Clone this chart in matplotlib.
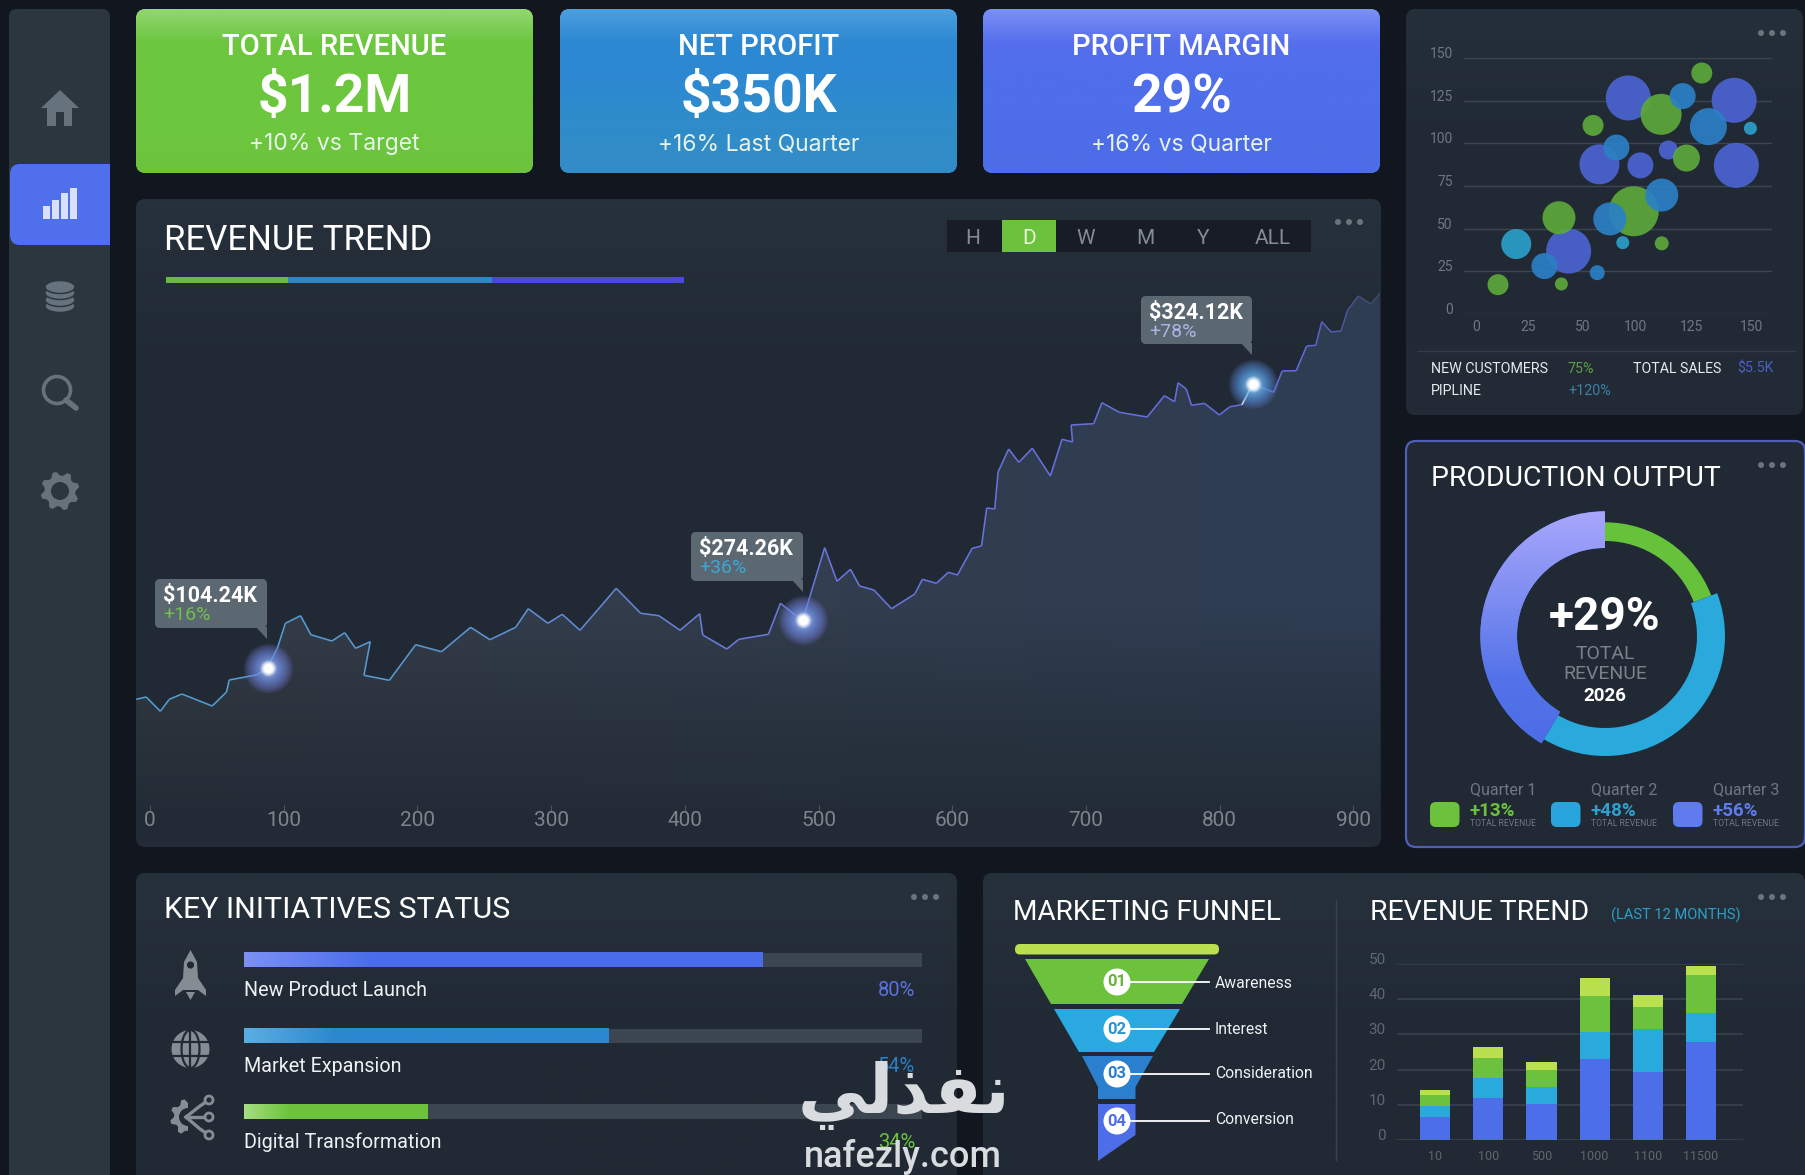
import numpy as np
import matplotlib
matplotlib.use("Agg")
import matplotlib.pyplot as plt
from matplotlib.patches import FancyBboxPatch, Polygon, Circle, Ellipse, Rectangle
from matplotlib.collections import LineCollection
from matplotlib.colors import LinearSegmentedColormap, to_rgb

plt.rcParams["font.family"] = ["Roboto", "DejaVu Sans"]

W, H = 1806, 1175

# ---- data ----
kpi_titles = ["TOTAL REVENUE", "NET PROFIT", "PROFIT MARGIN"]
kpi_values = ["$1.2M", "$350K", "29%"]
kpi_notes = ["+10% vs Target", "+16% Last Quarter", "+16% vs Quarter"]

trend_x = [-10.3, -2.9, 7.7, 14.4, 23.8, 46.5, 57.2, 59.2, 80.2, 87.9, 95.2, 101.2, 112.6, 120.3, 136,
           145.6, 153.7, 164.7, 160, 179, 198.7, 218, 239.8, 254.2, 273.5, 282.9, 297.6, 308.3, 321.6,
           348.7, 367, 380.7, 396.4, 411.1, 413.4, 431.4, 440.5, 462.5, 471.5, 482.6, 488.2, 504.6,
           513.8, 523.9, 530.7, 541.4, 554.6, 572, 577.7, 588.1, 597.1, 603.9, 614.9, 621.9, 625.8,
           631.8, 634.3, 642.2, 649.8, 659.9, 673.4, 682.1, 690, 688.9, 705.8, 712, 724.9, 745.8,
           758.7, 766.3, 768.9, 775, 779, 788.6, 799.8, 807.7, 816.7, 824.9, 840.4, 846.8, 857.3,
           865.1, 871.9, 876.4, 883.4, 890.8, 895.8, 903.7, 913, 919.8]
trend_y = [147.7, 150, 135.7, 147.7, 153, 141, 155, 167, 172.3, 179.3, 198.7, 223.7, 231.3, 212.3, 206,
           214.3, 198.7, 205.3, 171.7, 166.7, 202.3, 195.3, 219.7, 207.3, 219.7, 238.3, 223.7, 232.7, 216.7,
           258.7, 233.7, 231.3, 216.7, 233.3, 212, 198, 207.7, 212.7, 243.7, 232, 227, 299.3,
           265.7, 277.7, 261, 257, 238.3, 253, 267.7, 263.7, 274.7, 272, 298.7, 301, 339,
           338, 375, 398, 384.7, 398.7, 371, 407.7, 405, 422, 423.3, 444.3, 434.7, 430,
           451.3, 445.3, 464.3, 458, 441.7, 443.7, 432, 440.3, 442.3, 463, 454.7, 476, 476.3,
           501, 501.7, 525.3, 515, 516, 537, 551, 543, 553.7]
trend_ticks = [0, 100, 200, 300, 400, 500, 600, 700, 800, 900]
peak_x = [87.9, 488.2, 824.9]
peak_y = [179.3, 227, 463]
peak_labels = ["$104.24K", "$274.26K", "$324.12K"]
peak_deltas = ["+16%", "+36%", "+78%"]
ranges = ["H", "D", "W", "M", "Y", "ALL"]

bub_indigo_x = [69.2, 117.3, 56.1, 74.7, 87.4, 118.3, 42.1]
bub_indigo_y = [126.6, 125.2, 87.7, 87.1, 96.1, 87.1, 36.9]
bub_indigo_d = [45, 45, 40, 26, 19, 45, 45]
bub_green_x = [102.6, 84.1, 53.2, 95.6, 71.7, 37.7, 84.4, 10, 38.8]
bub_green_y = [141.2, 117, 110.5, 91.4, 60.2, 56.4, 41.4, 17.2, 17.6]
bub_green_d = [21, 41, 21, 27, 50, 33, 14, 21, 13]
bub_blue_x = [93.9, 105.6, 63.8, 84.4, 60.8, 31.1, 55.1]
bub_blue_y = [127.7, 109.8, 97.5, 69.7, 55.7, 28.1, 24.2]
bub_blue_d = [26, 37, 26, 33, 33, 26, 15]
bub_cyan_x = [124.7, 18.3, 66.7]
bub_cyan_y = [108.8, 41, 41.8]
bub_cyan_d = [13, 30, 13]
bub_xticks = [0, 23.6, 48.6, 72.3, 97.7, 125]
bub_xlabels = ["0", "25", "50", "100", "125", "150"]
bub_yticks = [0, 25, 50, 75, 100, 125, 150]

donut_shares = [19.2, 39.3, 41.5]
quarters = ["Quarter 1", "Quarter 2", "Quarter 3"]
quarter_vals = ["+13%", "+48%", "+56%"]

init_names = ["New Product Launch", "Market Expansion", "Digital Transformation"]
init_fill = [76.5, 53.8, 27]
init_labels = ["80%", "54%", "34%"]

funnel_names = ["Awareness", "Interest", "Consideration", "Conversion"]
funnel_nums = ["01", "02", "03", "04"]

stack_labels = ["10", "100", "500", "1000", "1100", "11500"]
stack_indigo = [6.5, 11.9, 10.1, 22.9, 19.3, 27.8]
stack_cyan = [3.1, 5.7, 4.9, 7.8, 12.2, 8.3]
stack_green = [3.1, 5.8, 4.9, 10.1, 6.4, 10.7]
stack_lime = [1.6, 2.9, 2.4, 5.1, 3.2, 2.7]
stack_ticks = [0, 10, 20, 30, 40, 50]

# ---- colours ----
BG = "#12161f"
PANEL_TOP = "#27313b"
PANEL = "#212a34"
GREEN = "#6cc23c"
BLUE = "#2b86cf"
CYAN = "#29a9dc"
INDIGO = "#4c6ee8"
LIME = "#b9e04f"
TICK = "#7c858d"
ICON = "#66737d"

fig = plt.figure(figsize=(W / 100, H / 100), dpi=100, facecolor=BG)


def px_axes(x0, y0, x1, y1, z):
    ax = fig.add_axes([x0 / W, 1 - y1 / H, (x1 - x0) / W, (y1 - y0) / H], zorder=z)
    ax.patch.set_alpha(0)
    return ax


back = px_axes(0, 0, W, H, 0)
back.set_xlim(0, W)
back.set_ylim(H, 0)
back.axis("off")
top = px_axes(0, 0, W, H, 5)
top.set_xlim(0, W)
top.set_ylim(H, 0)
top.axis("off")


def box(x0, y0, x1, y1, r, c_top, edge="none", lw=0, stops=None):
    p = FancyBboxPatch((x0 + r, y0 + r), x1 - x0 - 2 * r, y1 - y0 - 2 * r,
                       boxstyle="round,pad=%g,rounding_size=%g" % (r, r),
                       fc=c_top, ec=edge, lw=lw, zorder=1)
    back.add_patch(p)
    if stops is not None:
        cm = LinearSegmentedColormap.from_list("g", stops)
        arr = cm(np.linspace(0, 1, 128))[:, :3]
        im = back.imshow(arr[:, None, :], extent=(x0, x1, y1, y0), aspect="auto", zorder=1.5)
        im.set_clip_path(p)
        back.set_xlim(0, W)
        back.set_ylim(H, 0)
    return p


def label(x, y, s, size, color="white", weight="normal", ha="left", va="center", ax=None, **kw):
    return (ax or top).text(x, y, s, fontsize=size, color=color, fontweight=weight, ha=ha, va=va, **kw)


def dots(cx, cy, ax=back):
    for dx in (-11, 0, 11):
        ax.add_patch(Circle((cx + dx, cy), 3, fc="#6b747d", ec="none", zorder=3))


def gear(cx, cy, ro, ri, n=8):
    ang = np.linspace(0, 2 * np.pi, n * 4, endpoint=False) + np.pi / n / 2
    rad = np.tile([ri, ro, ro, ri], n)
    return np.column_stack([cx + rad * np.cos(ang), cy + rad * np.sin(ang)])


# ---- sidebar ----
box(9, 9, 110, 1190, 8, "#2c363f")
box(10, 164, 110, 245, 10, "#4f6fec")
back.add_patch(Rectangle((90, 164), 20, 81, fc="#4f6fec", ec="none", zorder=2))

back.add_patch(Polygon([(60, 90), (79, 108), (72, 108), (72, 126), (64, 126), (64, 112), (56, 112),
                        (56, 126), (47, 126), (47, 108), (41, 108)], fc=ICON, ec="none", zorder=3))
for bx, bh in zip((43, 52, 61, 70), (13, 19, 26, 31)):
    back.add_patch(Rectangle((bx, 219 - bh), 7, bh, fc="#d8e0fa", ec="none", zorder=3))
for cy in (306, 300, 293, 287):
    back.add_patch(Ellipse((60, cy), 30, 13, fc=ICON, ec="#2c363f", lw=1.1, zorder=3))
back.add_patch(Circle((57, 390), 13.5, fc="none", ec=ICON, lw=2.6, zorder=3))
back.plot([66, 76], [400, 408], color=ICON, lw=4, solid_capstyle="round", zorder=3)
back.add_patch(Polygon(gear(60, 491, 19.5, 15.5), fc=ICON, ec="none", zorder=3))
back.add_patch(Circle((60, 491), 9, fc="#2c363f", ec="none", zorder=3))

# ---- kpi cards ----
kpi_boxes = [(136, 533), (560, 957), (983, 1380)]
kpi_stops = [["#93d771", "#6cc63e", "#6cc63e", "#6cc63e", "#6cc63e", "#6cc43c"],
             ["#4b9fe0", "#2d88d2", "#2d88d2", "#2f8ccd", "#318cc8", "#318cc8"],
             ["#7a90f6", "#566fec", "#4f6eea", "#4f6eea", "#4d6de8", "#4d6de8"]]
for (x0, x1), title, val, note, st in zip(kpi_boxes, kpi_titles, kpi_values, kpi_notes, kpi_stops):
    box(x0, 9, x1, 173, 10, st[0], stops=st)
    cx = (x0 + x1) / 2
    label(cx, 47, title, 21, weight="medium", ha="center")
    label(cx, 98, val, 38.5, weight="bold", ha="center")
    label(cx, 144, note, 16.5, color="#e6f2ea", ha="center", family="Inter")

# ---- main panel ----
box(136, 199, 1381, 847, 10, PANEL_TOP, stops=[PANEL_TOP, PANEL, PANEL, PANEL, "#232c36"])
box(1406, 9, 1803, 415, 10, PANEL_TOP, stops=["#252f39", PANEL, PANEL, "#232c36"])
box(1406, 441, 1805, 847, 10, PANEL, edge="#4f5fb8", lw=1.6)
box(136, 873, 957, 1190, 10, PANEL_TOP, stops=["#27313b", PANEL, PANEL])
box(983, 873, 1805, 1190, 10, PANEL_TOP, stops=["#27313b", PANEL, PANEL])

label(164, 241, "REVENUE TREND", 25)
for x0, x1, c in [(166, 288, "#6cb948"), (288, 492, "#2f84c4"), (492, 684, "#4b48dc")]:
    back.add_patch(Rectangle((x0, 277), x1 - x0, 5.5, fc=c, ec="none", zorder=3))

back.add_patch(Rectangle((947, 220), 364, 32, fc="#171c26", ec="none", zorder=3))
back.add_patch(Rectangle((1002, 220), 54, 32, fc=GREEN, ec="none", zorder=3.1))
for name, cx in zip(ranges, (973, 1029, 1086, 1145, 1203, 1273)):
    label(cx, 238, name, 15, color="#e8f4df" if name == "D" else "#838c94", ha="center")
dots(1349, 222)

# revenue line
ax = px_axes(136, 199, 1381, 847, 2)
ax.set_xlim(-10.5, 920.7)
ax.set_ylim(0, 648)
tx, ty = np.array(trend_x), np.array(trend_y)

poly = Polygon(np.column_stack([np.r_[tx, tx[-1], tx[0]], np.r_[ty, 0, 0]]), fc="none", ec="none")
ax.add_patch(poly)
gh, gw = 400, 400
rgba = np.zeros((gh, gw, 4))
left, right = np.array(to_rgb("#363c46")), np.array(to_rgb("#2f3e54"))
mix = np.linspace(0, 1, gw)[:, None]
rgba[:, :, :3] = left * (1 - mix) + right * mix
yy = np.linspace(648, 0, gh)
rgba[:, :, 3] = np.clip((yy - 25) / 210, 0, 1)[:, None]
im = ax.imshow(rgba, extent=(-10.5, 920.7, 0, 648), aspect="auto", zorder=1)
im.set_clip_path(poly)

line_cm = LinearSegmentedColormap.from_list("ln", [(0, "#4f9fcf"), (0.25, "#5a97d0"), (0.5, "#6a78dc"),
                                                   (0.94, "#6468dc"), (1, "#39465e")])
mids = (tx[:-1] + tx[1:]) / 2
seg_cols = line_cm(np.clip((mids + 10.5) / 931, 0, 1))
seg_cols[(mids > 816) & (mids < 826)] = to_rgb("#ffffff") + (1,)
ax.add_collection(LineCollection(np.stack([np.column_stack([tx[:-1], ty[:-1]]),
                                           np.column_stack([tx[1:], ty[1:]])], axis=1),
                                 colors=seg_cols, linewidths=1.15, zorder=2))

# soft glow: many faint discs stacked, so the edge fades out
glow_cm = [LinearSegmentedColormap.from_list("a", ["#7a7ce0", "#6f9cf0", "#dbe6ff"]),
           LinearSegmentedColormap.from_list("b", ["#7a7ce0", "#6f9cf0", "#dbe6ff"]),
           LinearSegmentedColormap.from_list("c", ["#5f80d8", "#58b4f0", "#dff2ff"])]
for gx, gy, cm in zip(peak_x, peak_y, glow_cm):
    radii = np.linspace(25, 5, 26)
    for i, r in enumerate(radii):
        ax.scatter([gx], [gy], s=(2 * r * 0.72) ** 2, color=cm(i / 25), alpha=0.075,
                   linewidths=0, zorder=3)
    for r, a in [(8, 0.3), (6.5, 0.5), (5, 0.8), (4, 1)]:
        ax.scatter([gx], [gy], s=(2 * r * 0.72) ** 2, color="white", alpha=a, linewidths=0, zorder=4)

for side in ax.spines.values():
    side.set_visible(False)
ax.spines["bottom"].set_position(("data", 42))
ax.set_yticks([])
ax.set_xticks(trend_ticks)
ax.tick_params(axis="x", direction="out", length=4.5, width=0.8, color="#4a545e",
               labelcolor=TICK, labelsize=15, pad=-0.5)
ax.set_xlim(-10.5, 920.7)
ax.set_ylim(0, 648)

# tooltips
tips = [(155, 579, 267, 628, 256), (691, 532, 803, 581, 792), (1141, 296, 1252, 344, 1241)]
delta_cols = ["#72bf4c", "#3ea6d4", "#aeb4e6"]
for (x0, y0, x1, y1, tail), txt, d, dc in zip(tips, peak_labels, peak_deltas, delta_cols):
    top.add_patch(FancyBboxPatch((x0 + 5, y0 + 5), x1 - x0 - 10, y1 - y0 - 10,
                                 boxstyle="round,pad=5,rounding_size=5", fc="#5b6871", ec="none", zorder=2))
    top.add_patch(Polygon([(tail, y1 - 1), (x1, y1 - 1), (x1, y1 + 11)], fc="#5b6871", ec="none", zorder=2))
    label(x0 + 8, y0 + 17, txt, 15.5, weight="bold", zorder=3)
    label(x0 + 8, y0 + 36, d, 14, color=dc, zorder=3)

# ---- bubble chart ----
ax = px_axes(1464, 58, 1772, 314, 2)
ax.set_xlim(-5.45, 134.5)
ax.set_ylim(0, 150)
for bx, by, bd, c in [(bub_indigo_x, bub_indigo_y, bub_indigo_d, "#4b64d2"),
                      (bub_green_x, bub_green_y, bub_green_d, "#5ca83a"),
                      (bub_blue_x, bub_blue_y, bub_blue_d, "#2b80c6"),
                      (bub_cyan_x, bub_cyan_y, bub_cyan_d, "#2b9fc9")]:
    ax.scatter(bx, by, s=(np.array(bd) * 0.72) ** 2, color=c, alpha=0.92, linewidths=0, zorder=3, clip_on=False)
ax.set_xticks(bub_xticks)
ax.set_xticklabels(bub_xlabels)
ax.set_yticks(bub_yticks)
ax.grid(axis="y", color="#3b4651", lw=1)
ax.grid(axis="x", visible=False)
ax.set_axisbelow(True)
for side in ax.spines.values():
    side.set_visible(False)
ax.tick_params(length=0, labelcolor="#6f7882", labelsize=10)
ax.tick_params(axis="x", pad=4.5)
ax.tick_params(axis="y", pad=8)
for t in ax.get_yticklabels():
    t.set_verticalalignment("baseline")
dots(1772, 33)
back.plot([1418, 1795], [351, 351], color="#323c47", lw=1, zorder=3)
label(1431, 369, "NEW CUSTOMERS", 10.3, color="#e6eaee")
label(1568, 369, "75%", 10.3, color="#5f9c46")
label(1633, 369, "TOTAL SALES", 10.2, color="#e6eaee")
label(1737, 369, "$5.5K", 10.2, color="#4b5fc4")
label(1431, 391, "PIPLINE", 10.3, color="#e6eaee")
label(1568, 391, "+120%", 10.3, color="#3f7fa8")

# ---- donut ----
label(1431, 478, "PRODUCTION OUTPUT", 20.4)
dots(1772, 465)
ax = px_axes(1475, 506, 1735, 766, 2)
ring_colors = ["#66c23a", "#4c6de8", CYAN]
ring_slots = [0, 2, 1]
ring_outer = [113.7, 124.7, 120]
ring_inner = [95, 88, 92]
for k, ro, ri, c in zip(ring_slots, ring_outer, ring_inner, ring_colors):
    cols = [(0, 0, 0, 0)] * 3
    cols[k] = c
    wedges, _ = ax.pie(donut_shares, radius=ro, startangle=90, counterclock=False, colors=cols,
                       wedgeprops={"width": ro - ri, "linewidth": 0})
    if k == 2:
        cm = LinearSegmentedColormap.from_list("d", ["#a8a6fb", "#7f8ef2", "#5473e9", "#4b6be6"])
        g = cm(np.linspace(0, 1, 128))[:, :3]
        im = ax.imshow(g[:, None, :], extent=(-125, 125, -125, 125), aspect="auto", zorder=2)
        im.set_clip_path(wedges[2])
ax.set_xlim(-130, 130)
ax.set_ylim(-130, 130)
ax.set_aspect("equal")
ax.axis("off")

label(1605, 617, "+29%", 33, weight="bold", ha="center")
label(1605, 654, "TOTAL", 14, color="#79828b", ha="center")
label(1605, 674, "REVENUE", 14, color="#79828b", ha="center")
label(1605, 696, "2026", 13.5, weight="bold", ha="center")

swatch_x = [1430, 1551, 1673]
text_x = [1470, 1591, 1713]
sw_cols = ["#6cc23c", "#29a5de", "#5f7bee"]
val_cols = ["#6cc23c", "#2f9fd0", "#5f7bee"]
for sx, tx0, q, v, sc, vc in zip(swatch_x, text_x, quarters, quarter_vals, sw_cols, val_cols):
    top.add_patch(FancyBboxPatch((sx + 6, 808), 17.5, 13, boxstyle="round,pad=6,rounding_size=6", fc=sc, ec="none"))
    label(tx0, 790, q, 11.5, color="#6f7882")
    label(tx0, 811, v, 13.5, color=vc, weight="bold")
    label(tx0, 824, "TOTAL REVENUE", 6.2, color="#6f7882")

# ---- key initiatives ----
label(164, 910, "KEY INITIATIVES STATUS", 21.8)
dots(925, 897)
ax = px_axes(244, 940, 922, 1130, 2)
ypos = [0, 1, 2]
ax.barh(ypos, [100] * 3, height=0.19, color="#3c4650", zorder=1)
fill_cols = [("#7c90f4", "#4a6cea"), ("#5aaee2", "#2b88d0"), ("#a6de80", "#6cc23c")]
bars = ax.barh(ypos, init_fill, height=0.19, color=[c[1] for c in fill_cols], zorder=2)
for rect, (c0, c1) in zip(bars, fill_cols):
    stop = np.clip(np.linspace(0, 1, 128) * 4, 0, 1)
    arr = np.array(to_rgb(c0)) * (1 - stop[:, None]) + np.array(to_rgb(c1)) * stop[:, None]
    x0, w = rect.get_x(), rect.get_width()
    y0, h = rect.get_y(), rect.get_height()
    ax.imshow(arr[None, :, :], extent=(x0, x0 + w, y0 + h, y0), aspect="auto", zorder=3)
ax.set_xlim(0, 100)
ax.set_ylim(2.244, -0.264)
ax.axis("off")

name_y = [990, 1066, 1142]
pct_cols = ["#5b70e0", "#2b7fc4", "#6cc23c"]
for ny, n, p, c in zip(name_y, init_names, init_labels, pct_cols):
    label(244, ny, n, 14.2, color="#eef1f4")
    label(915, ny, p, 14.5, color=c, ha="right")

IC2 = "#858c93"
back.add_patch(Polygon([(190.5, 950), (197, 962), (198, 978), (206, 990), (206, 996), (198, 990),
                        (183, 990), (175, 996), (175, 990), (183, 978), (184, 962)], fc=IC2, ec="none", zorder=3))
back.add_patch(Circle((190.5, 965), 3.6, fc=PANEL, ec="none", zorder=4))
back.add_patch(Polygon([(186, 992), (195, 992), (190.5, 1000)], fc=IC2, ec="none", zorder=3))
back.add_patch(Circle((190.5, 1049), 19, fc=IC2, ec="none", zorder=3))
for gy in (1042, 1056):
    back.plot([171, 210], [gy, gy], color=PANEL, lw=1.6, zorder=4)
back.add_patch(Ellipse((190.5, 1049), 18, 38, fc="none", ec=PANEL, lw=1.6, zorder=4))
back.plot([190.5, 190.5], [1030, 1068], color=PANEL, lw=1.6, zorder=4)
back.add_patch(Polygon(gear(188, 1117, 18, 14), fc=IC2, ec="none", zorder=3))
back.add_patch(Circle((188, 1117), 9, fc=PANEL, ec="none", zorder=3))
back.add_patch(Rectangle((188, 1098), 25, 38, fc=PANEL, ec="none", zorder=3.1))
for (ex, ey), mid in zip([(209, 1100), (209, 1117), (209, 1135)], [(200, 1106), (200, 1117), (200, 1129)]):
    back.plot([186, mid[0], ex], [1117, mid[1], ey], color=IC2, lw=2.4, zorder=3.2)
    back.add_patch(Circle((ex, ey), 4, fc=PANEL, ec=IC2, lw=2, zorder=3.3))

# ---- marketing funnel ----
label(1013, 912, "MARKETING FUNNEL", 20.2)
back.add_patch(FancyBboxPatch((1020, 949), 194, 0.5, boxstyle="round,pad=5,rounding_size=5",
                              fc=LIME, ec="none", zorder=3))
funnel_polys = [[(1025, 959), (1209, 959), (1182, 1004), (1051, 1004)],
                [(1054, 1009), (1180, 1009), (1154, 1052), (1079, 1052)],
                [(1082, 1056), (1153, 1056), (1135.5, 1087), (1135.5, 1099), (1098, 1099), (1098, 1087)],
                [(1098, 1104), (1135.5, 1104), (1135.5, 1135), (1098, 1161)]]
funnel_cols = ["#6cc23c", "#2aa8e0", "#2b7fcf", "#4d6ee8"]
funnel_num_cols = ["#6cb040", "#2a94d0", "#2b7fcf", "#4d6ee8"]
circle_y = [982, 1029, 1074, 1121]
text_y = [983, 1029, 1074, 1120]
for pts, c, nc, cy, ly, num, name in zip(funnel_polys, funnel_cols, funnel_num_cols, circle_y, text_y,
                                         funnel_nums, funnel_names):
    back.add_patch(Polygon(pts, fc=c, ec="none", zorder=3))
    back.plot([1131, 1209], [cy, cy], color="white", lw=1.3, zorder=3.5)
    back.add_patch(Ellipse((1117, cy), 27, 27, fc="white", ec="none", zorder=4))
    label(1117, cy, num, 12, color=nc, weight="bold", ha="center", zorder=5)
    label(1215, ly, name, 11.3, color="#eef1f4")

back.plot([1336, 1336], [900, 1160], color="#39434e", lw=1, zorder=3)

# ---- stacked bars ----
label(1370, 912, "REVENUE TREND", 20.4)
label(1611, 915, "(LAST 12 MONTHS)", 10.5, color="#2f9dc7")
dots(1772, 897)
ax = px_axes(1397, 964, 1743, 1140, 2)
pos = np.arange(len(stack_labels))
base = np.zeros(len(pos))
for vals, c in [(stack_indigo, INDIGO), (stack_cyan, CYAN), (stack_green, GREEN), (stack_lime, LIME)]:
    ax.bar(pos, vals, width=0.566, bottom=base, color=c, zorder=3)
    base += np.array(vals)
ax.set_xlim(-0.717, 5.79)
ax.set_ylim(0, 50)
ax.set_xticks(pos)
ax.set_xticklabels(stack_labels)
ax.set_yticks(stack_ticks)
ax.grid(axis="y", color="#38424d", lw=1.2)
ax.grid(axis="x", visible=False)
ax.set_axisbelow(True)
for side in ax.spines.values():
    side.set_visible(False)
ax.tick_params(length=0, labelcolor="#5f6871")
ax.tick_params(axis="x", labelsize=9, pad=7)
ax.tick_params(axis="y", labelsize=11, pad=8)
for t in ax.get_yticklabels():
    t.set_verticalalignment("baseline")

# ---- watermark ----
label(904, 1096, "\ufef2\ufedf\ufeac\ufed4\ufee7", 50, color="#d9dcdf", weight="bold", ha="center",
      family="DejaVu Sans", zorder=8)
label(903, 1157, "nafezly.com", 26, color="#d9dcdf", weight="medium", ha="center", zorder=8)

fig.savefig("out.png", dpi=100, facecolor=BG)
